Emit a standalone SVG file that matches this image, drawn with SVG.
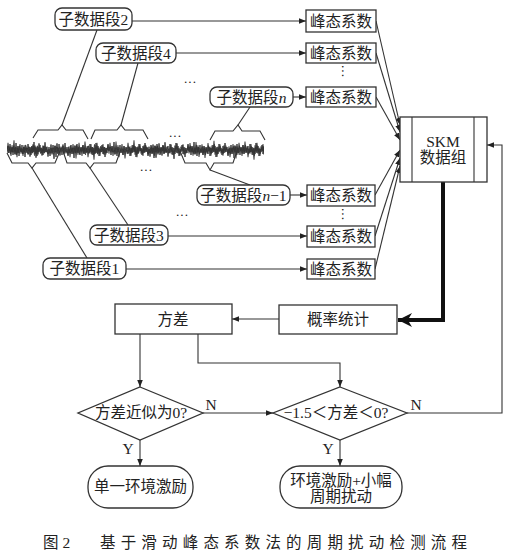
<svg xmlns="http://www.w3.org/2000/svg" width="511" height="557" viewBox="0 0 511 557">
<style>
text{font-family:"Liberation Serif","Noto Sans CJK SC",serif;fill:#222;font-size:15.5px}
.bx{fill:#fff;stroke:#333;stroke-width:1.3}
.ln{fill:none;stroke:#333;stroke-width:1.1}
.br{fill:none;stroke:#333;stroke-width:1.1}
.c{text-anchor:middle}
.dot{font-size:13px;text-anchor:middle;fill:#222}
</style>
<defs>
<marker id="a" viewBox="0 0 10 10" refX="10" refY="5" markerWidth="7" markerHeight="7" markerUnits="userSpaceOnUse" orient="auto"><path d="M0,1 L10,5 L0,9 Z" fill="#222"/></marker>
<marker id="big" viewBox="0 0 10 10" refX="10" refY="5" markerWidth="14" markerHeight="14" markerUnits="userSpaceOnUse" orient="auto"><path d="M0,0 L10,5 L0,10 L3,5 Z" fill="#111"/></marker>
<path id="w" d="M0,0 L1,-4 L2,3 L3,-6 L4,2 L5,-3 L6,5 L7,-2 L8,4 L9,-7 L10,3 L11,-4 L12,6 L13,-1 L14,2 L15,-5 L16,4 L17,-3 L18,7 L19,-2 L20,3 L21,-6 L22,1 L23,-3 L24,5 L25,-4 L26,2 L27,-8 L28,4 L29,-2 L30,6 L31,-3 L32,2 L33,-5 L34,3 L35,-1 L36,5 L37,-4 L38,2 L39,-3 L40,0" fill="none" stroke="#333" stroke-width="0.9"/>
<clipPath id="wc"><rect x="7" y="130" width="257" height="40"/></clipPath>
</defs>

<g id="waveform" clip-path="url(#wc)">
<use href="#w" transform="translate(7,150)"/>
<use href="#w" transform="translate(47,150) scale(1,-1)"/>
<use href="#w" transform="translate(87,150)"/>
<use href="#w" transform="translate(127,150) scale(1,-1)"/>
<use href="#w" transform="translate(167,150)"/>
<use href="#w" transform="translate(207,150) scale(1,-1)"/>
<use href="#w" transform="translate(247,150)"/>
<use href="#w" transform="translate(7.5,150) scale(1,-0.7)"/>
<use href="#w" transform="translate(67.5,150) scale(1,0.7)"/>
<use href="#w" transform="translate(127.5,150) scale(1,-0.7)"/>
<use href="#w" transform="translate(187.5,150) scale(1,0.7)"/>
<use href="#w" transform="translate(227.5,150) scale(1,-0.7)"/>
<use href="#w" transform="translate(-13,150) scale(1,1.2)"/>
<use href="#w" transform="translate(27,150) scale(1,-1.1)"/>
<use href="#w" transform="translate(107,150) scale(1,1.2)"/>
<use href="#w" transform="translate(147,150) scale(1,-1.1)"/>
<use href="#w" transform="translate(187,150) scale(1,1.15)"/>
<use href="#w" transform="translate(227,150) scale(1,-1.2)"/>
<use href="#w" transform="translate(67,150) scale(1,-1.2)"/>
</g>

<g id="braces">
<path class="br" d="M33,138 L38,130 L58,130 L62,125 L66,130 L83,130 L88,139"/>
<path class="br" d="M91,139 L95,130 L117,130 L121,125 L125,130 L143,130 L148,139"/>
<path class="br" d="M210,140 L215,131 L233,131 L238,125 L242,131 L260,131 L265,140"/>
<path class="br" d="M7,153 L12,163 L28,163 L32,168 L36,163 L55,163 L60,151"/>
<path class="br" d="M63,151 L67,163 L86,163 L90,168 L94,163 L116,163 L120,152"/>
<path class="br" d="M180,151 L185,163 L206,163 L210,170 L214,163 L233,163 L237,151"/>
</g>

<g id="dots">
<text class="dot" x="175" y="140">···</text>
<text class="dot" x="190" y="86">···</text>
<text class="dot" x="146" y="174">···</text>
<text class="dot" x="182" y="219">···</text>
<text class="dot" x="339" y="71" transform="rotate(90 339 71)">···</text>
<text class="dot" x="339" y="214" transform="rotate(90 339 214)">···</text>
</g>

<g id="connectors">
<path class="ln" d="M62,125 L97,30"/>
<path class="ln" d="M121,125 L138,63"/>
<path class="ln" d="M238,125 L250,107"/>
<path class="ln" d="M32,168 L87,258"/>
<path class="ln" d="M90,168 L128,225"/>
<path class="ln" d="M210,170 L250,185"/>
<path class="ln" d="M132,21 L306,21" marker-end="url(#a)"/>
<path class="ln" d="M176,53 L306,53" marker-end="url(#a)"/>
<path class="ln" d="M293,97 L306,97" marker-end="url(#a)"/>
<path class="ln" d="M290,195 L307,195" marker-end="url(#a)"/>
<path class="ln" d="M168,236 L307,236" marker-end="url(#a)"/>
<path class="ln" d="M126,269 L307,269" marker-end="url(#a)"/>
<path class="ln" d="M376,21 L400,125" marker-end="url(#a)"/>
<path class="ln" d="M376,53 L400,132" marker-end="url(#a)"/>
<path class="ln" d="M376,97 L400,140" marker-end="url(#a)"/>
<path class="ln" d="M375,195 L400,150" marker-end="url(#a)"/>
<path class="ln" d="M375,236 L400,158" marker-end="url(#a)"/>
<path class="ln" d="M375,269 L400,166" marker-end="url(#a)"/>
<path fill="none" stroke="#111" stroke-width="4" d="M443,182 L443,320 L398,320" marker-end="url(#big)"/>
<path class="ln" d="M279,319 L232,319" marker-end="url(#a)"/>
<path class="ln" d="M140,334 L140,387" marker-end="url(#a)"/>
<path class="ln" d="M198,334 L198,363 L340,363 L340,387" marker-end="url(#a)"/>
<path class="ln" d="M203,413 L273,413" marker-end="url(#a)"/>
<path class="ln" d="M407,413 L502,413 L502,145 L487,145" marker-end="url(#a)"/>
<path class="ln" d="M140,440 L140,466" marker-end="url(#a)"/>
<path class="ln" d="M340,440 L340,466" marker-end="url(#a)"/>
<text x="211" y="410" class="c">N</text>
<text x="416" y="410" class="c">N</text>
<text x="128" y="454" class="c">Y</text>
<text x="328" y="454" class="c">Y</text>
</g>

<g id="seg2"><rect class="bx" x="55" y="8" width="77" height="22" rx="7"/><text class="c" x="93.5" y="25">子数据段2</text></g>
<g id="seg4"><rect class="bx" x="96" y="43" width="80" height="20" rx="7"/><text class="c" x="136" y="59">子数据段4</text></g>
<g id="segn"><rect class="bx" x="210" y="87" width="83" height="20" rx="7"/><text class="c" x="251.5" y="103">子数据段<tspan font-style="italic">n</tspan></text></g>
<g id="segn1"><rect class="bx" x="197" y="185" width="93" height="20" rx="7"/><text class="c" x="243.5" y="201">子数据段<tspan font-style="italic">n</tspan>−1</text></g>
<g id="seg3"><rect class="bx" x="90" y="225" width="78" height="20" rx="7"/><text class="c" x="129" y="241">子数据段3</text></g>
<g id="seg1"><rect class="bx" x="43" y="258" width="83" height="21" rx="7"/><text class="c" x="84.5" y="274">子数据段1</text></g>

<g id="k1"><rect class="bx" x="306" y="10" width="70" height="22"/><text class="c" x="341" y="27">峰态系数</text></g>
<g id="k2"><rect class="bx" x="306" y="43" width="70" height="20"/><text class="c" x="341" y="59">峰态系数</text></g>
<g id="k3"><rect class="bx" x="306" y="87" width="70" height="20"/><text class="c" x="341" y="103">峰态系数</text></g>
<g id="k4"><rect class="bx" x="307" y="185" width="68" height="21"/><text class="c" x="341" y="201">峰态系数</text></g>
<g id="k5"><rect class="bx" x="307" y="226" width="68" height="21"/><text class="c" x="341" y="242">峰态系数</text></g>
<g id="k6"><rect class="bx" x="307" y="259" width="68" height="20"/><text class="c" x="341" y="275">峰态系数</text></g>

<g id="skm"><rect class="bx" x="400" y="117" width="87" height="65"/><path class="ln" d="M412,117 L412,182 M474,117 L474,182"/><text class="c" x="443" y="147" font-size="16">SKM</text><text class="c" x="443" y="163">数据组</text></g>

<g id="prob"><rect class="bx" x="279" y="305" width="118" height="29"/><text class="c" x="338" y="325">概率统计</text></g>
<g id="var"><rect class="bx" x="115" y="304" width="117" height="30"/><text class="c" x="173" y="325">方差</text></g>

<g id="d1"><path class="bx" d="M140,387 L203,413 L140,440 L78,413 Z"/><text class="c" x="141" y="418">方差近似为0?</text></g>
<g id="d2"><path class="bx" d="M340,387 L407,413 L340,440 L273,413 Z"/><text class="c" x="336" y="418" font-size="14.5">−1.5＜方差＜0?</text></g>

<g id="t1"><rect class="bx" x="88" y="466" width="105" height="42" rx="20"/><text class="c" x="140.5" y="492">单一环境激励</text></g>
<g id="t2"><rect class="bx" x="280" y="466" width="122" height="42" rx="20"/><text class="c" x="341" y="486">环境激励+小幅</text><text class="c" x="341" y="502">周期扰动</text></g>

<g id="caption"><text x="43" y="548" font-size="16">图 2</text><text x="100" y="548" font-size="16" textLength="367" lengthAdjust="spacing">基于滑动峰态系数法的周期扰动检测流程</text></g>
</svg>
